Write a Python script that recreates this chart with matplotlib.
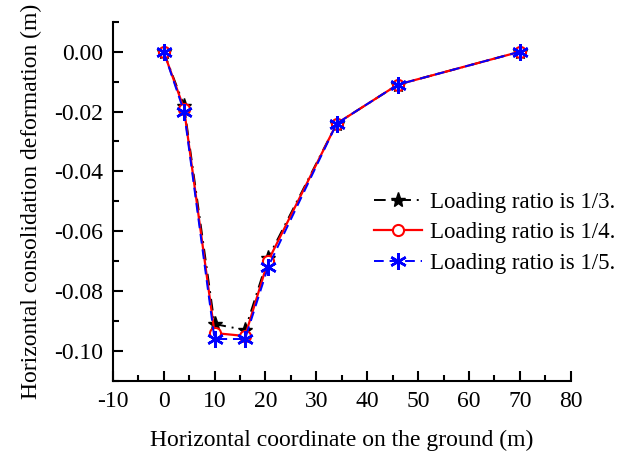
import matplotlib
matplotlib.use('Agg')
import matplotlib.pyplot as plt
from matplotlib.ticker import MultipleLocator, FuncFormatter

# DATA
x = [0, 4, 10, 16, 20.5, 34, 46, 70]
ratio_1_3 = [0.0, -0.018, -0.091, -0.093, -0.069, -0.024, -0.011, 0.0]
ratio_1_4 = [0.0, -0.019, -0.094, -0.095, -0.070, -0.024, -0.011, 0.0]
ratio_1_5 = [0.0, -0.020, -0.096, -0.096, -0.072, -0.024, -0.011, 0.0]
labels = ["Loading ratio is 1/3.", "Loading ratio is 1/4.", "Loading ratio is 1/5."]

plt.rcParams['font.family'] = ['Liberation Serif', 'DejaVu Serif']
plt.rcParams['axes.unicode_minus'] = False

fig = plt.figure(figsize=(6.3, 4.54), dpi=100)
ax = fig.add_axes([0.179, 0.161, 0.727, 0.791])

ax.plot(x, ratio_1_3, color='black', linestyle=(0, (6, 3, 1, 3)), lw=1.4,
        marker='*', markersize=11, label=labels[0])
ax.plot(x, ratio_1_4, color='red', linestyle='-', lw=1.6,
        marker='o', markersize=8, markerfacecolor='white', markeredgecolor='red',
        markeredgewidth=1.5, label=labels[1])
ax.plot(x, ratio_1_5, color='blue', linestyle=(0, (5, 3)), lw=1.4,
        marker=(6, 2, 0), markersize=12, markeredgewidth=1.8, label=labels[2])

ax.set_xlim(-10, 80)
ax.set_ylim(-0.11, 0.01)
ax.xaxis.set_major_locator(MultipleLocator(10))
ax.xaxis.set_minor_locator(MultipleLocator(5))
ax.yaxis.set_major_locator(MultipleLocator(0.02))
ax.yaxis.set_minor_locator(MultipleLocator(0.01))
ax.yaxis.set_major_formatter(FuncFormatter(lambda v, pos: f"{round(v, 4) + 0.0:.2f}".replace("-0.00", "0.00")))

ax.spines['top'].set_visible(False)
ax.spines['right'].set_visible(False)
ax.spines['left'].set_linewidth(1.5)
ax.spines['bottom'].set_linewidth(1.5)
ax.tick_params(which='major', direction='in', length=7, width=1.5, labelsize=17, pad=7)
ax.tick_params(which='minor', direction='in', length=4, width=1.5)

ax.set_xlabel("Horizontal coordinate on the ground (m)", fontsize=17, labelpad=13)
ax.set_ylabel("Horizontal consolidation deformation (m)", fontsize=17, labelpad=9)

ax.legend(loc='center left', bbox_to_anchor=(0.526, 0.412), frameon=False,
          fontsize=16.5, handlelength=2.1, handletextpad=0.34, labelspacing=0.42)

fig.savefig("out.png", dpi=100)
